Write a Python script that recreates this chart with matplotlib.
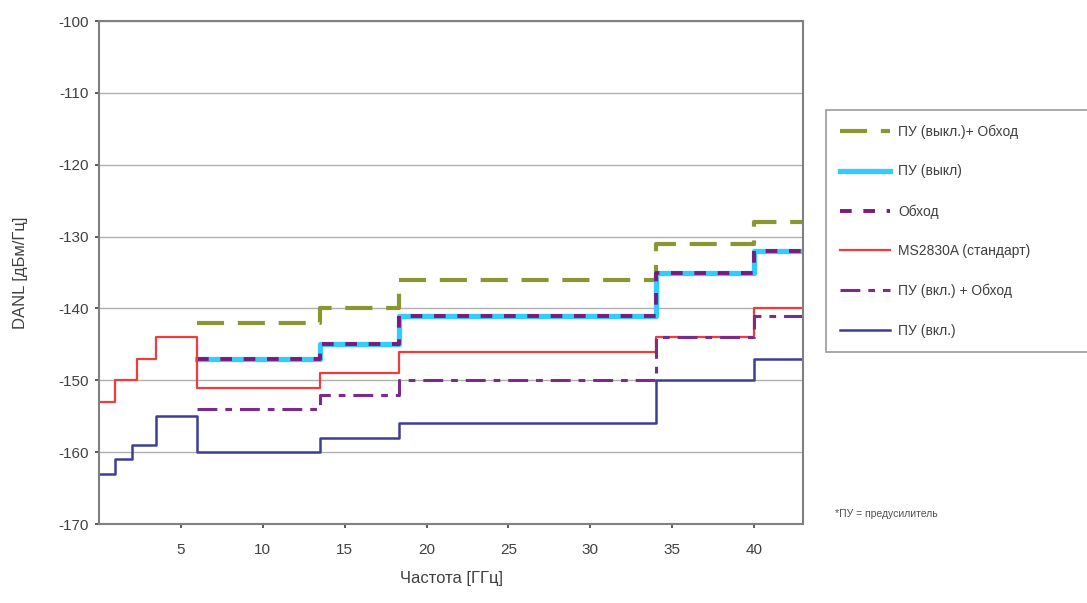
import matplotlib.pyplot as plt

plt.rcParams['font.family'] = ['Liberation Sans', 'DejaVu Sans']

# частотные границы ступеней [ГГц]
edges_hi = [6, 13.5, 18.3, 34, 40, 43]
edges_red = [0, 1, 2.3, 3.5, 6, 13.5, 18.3, 34, 40, 43]
edges_blue = [0, 1, 2, 3.5, 6, 13.5, 18.3, 34, 40, 43]

# уровни DANL [дБм/Гц]
pu_off_bypass = [-142, -140, -136, -131, -128]
pu_off = [-147, -145, -141, -135, -132]
bypass = [-147, -145, -141, -135, -132]
ms2830a = [-153, -150, -147, -144, -151, -149, -146, -144, -140]
pu_on_bypass = [-154, -152, -150, -144, -141]
pu_on = [-163, -161, -159, -155, -160, -158, -156, -150, -147]

labels = ['ПУ (выкл.)+ Обход', 'ПУ (выкл)', 'Обход', 'MS2830A (стандарт)',
          'ПУ (вкл.) + Обход', 'ПУ (вкл.)']

fig = plt.figure(figsize=(10.87, 6.03), dpi=100)
ax = fig.add_axes([0.091, 0.131, 0.648, 0.834])


def stairs(x, y, **kw):
    return ax.step(x, y + [y[-1]], where='post', **kw)[0]


h1 = stairs(edges_hi, pu_off_bypass, color='#8a9630', lw=3, dashes=(6.5, 3.3))
h2 = stairs(edges_hi, pu_off, color='#33ccff', lw=3.8)
h3 = stairs(edges_hi, bypass, color='#7a1a7a', lw=2.8, dashes=(3, 3))
h4 = stairs(edges_red, ms2830a, color='#f03c3c', lw=1.6)
h5 = stairs(edges_hi, pu_on_bypass, color='#7c2a8c', lw=2.2,
            dashes=(6.5, 2.6, 2.2, 2.6))
h6 = stairs(edges_blue, pu_on, color='#3d3f96', lw=1.8)

ax.set_xlim(0, 43)
ax.set_ylim(-170, -100)
ax.set_xticks([5, 10, 15, 20, 25, 30, 35, 40])
ax.set_yticks(range(-170, -99, 10))
ax.set_yticklabels(['-%d' % abs(v) for v in range(-170, -99, 10)])
ax.yaxis.grid(True, color='#b0b0b0', lw=1)
ax.set_axisbelow(True)
for s in ax.spines.values():
    s.set_color('#808080')
    s.set_linewidth(1.5)
ax.tick_params(colors='#404040', labelsize=11, length=3, width=1.2, pad=11)
ax.tick_params(axis='y', pad=4)

ax.set_xlabel('Частота [ГГц]', fontsize=12, color='#404040', labelpad=10)
ax.set_ylabel('DANL [дБм/Гц]', fontsize=12, color='#404040', labelpad=22)

leg = fig.legend([h1, h2, h3, h4, h5, h6], labels, loc='upper left',
                 bbox_to_anchor=(0.760, 0.411, 0.26, 0.406), mode='expand',
                 fontsize=10, frameon=True,
                 fancybox=False, edgecolor='#808080', handlelength=3.6,
                 labelspacing=1.85, borderpad=1.0, handletextpad=0.6,
                 borderaxespad=0)
leg.get_frame().set_linewidth(1.2)
for t in leg.get_texts():
    t.set_color('#404040')

fig.text(0.768, 0.142, '*ПУ = предусилитель', fontsize=7.5, color='#505050')

fig.savefig('out.png', dpi=100)
